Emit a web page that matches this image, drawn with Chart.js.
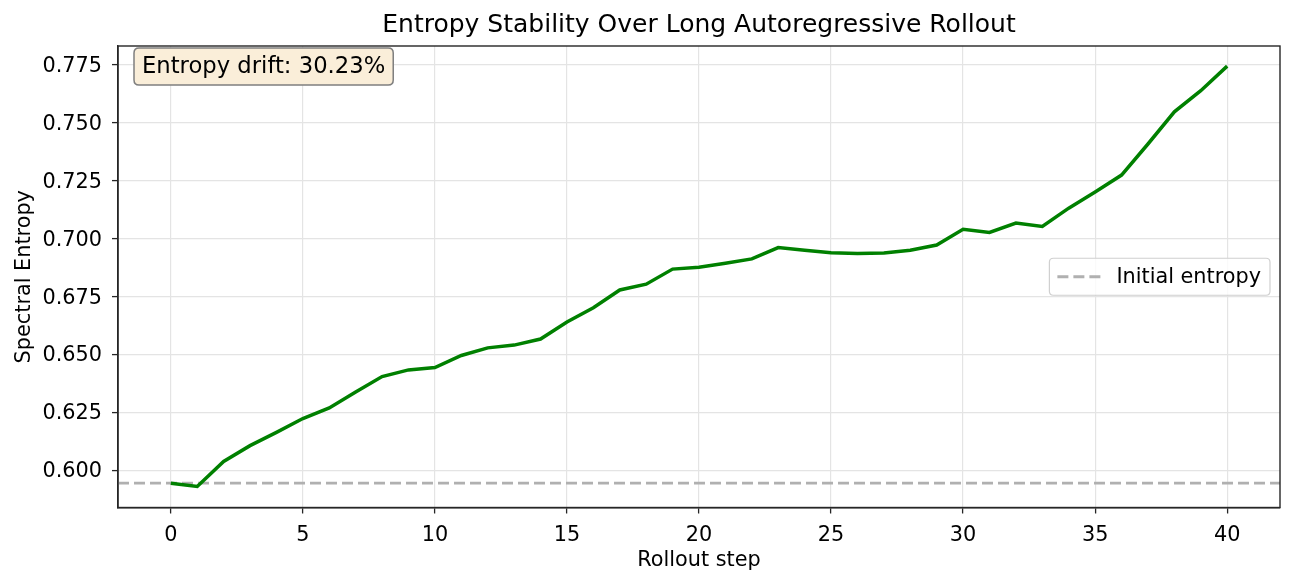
<!DOCTYPE html>
<html>
<head>
<meta charset="utf-8">
<script src="https://cdn.jsdelivr.net/npm/chart.js@4/dist/chart.umd.min.js"></script>
<style>
  html, body { margin: 0; padding: 0; background: #fff; }
  #wrap { width: 1295px; height: 586px; position: relative; }
</style>
</head>
<body>
<div id="wrap"><canvas id="entropyChart"></canvas></div>
<script>
// DATA

const steps = [0, 1, 2, 3, 4, 5, 6, 7, 8, 9, 10, 11, 12, 13, 14, 15, 16, 17, 18, 19, 20,
  21, 22, 23, 24, 25, 26, 27, 28, 29, 30, 31, 32, 33, 34, 35, 36, 37, 38, 39, 40];

const entropy = [0.5945, 0.5931, 0.6039, 0.6107, 0.6164, 0.6224, 0.6270, 0.6339, 0.6405, 0.6434,
  0.6444, 0.6496, 0.6529, 0.6541, 0.6567, 0.6641, 0.6702, 0.6779, 0.6804, 0.6869,
  0.6877, 0.6894, 0.6913, 0.6962, 0.6950, 0.6940, 0.6936, 0.6939, 0.6950, 0.6973,
  0.7041, 0.7027, 0.7068, 0.7053, 0.7132, 0.7202, 0.7275, 0.7409, 0.7548, 0.7639,
  0.7745];

const initialEntropy = 0.5945;
const xRange = [-2, 42];
const yRange = [0.5840, 0.7832];
const xTicks = [0, 5, 10, 15, 20, 25, 30, 35, 40];
const yTicks = [0.600, 0.625, 0.650, 0.675, 0.700, 0.725, 0.750, 0.775];

const titleText = "Entropy Stability Over Long Autoregressive Rollout";
const driftText = "Entropy drift: 30.23%";
const baselineLabel = "Initial entropy";

const FONT = "DejaVu Sans";
const SPINE = "#262626";
const GRID = "#e4e4e4";
const BASE_SIZE = 20.8;

Chart.defaults.font.family = FONT;
Chart.defaults.color = "#000";

// helpers

function roundRect(ctx, x, y, w, h, r) {
  ctx.beginPath();
  ctx.moveTo(x + r, y);
  ctx.lineTo(x + w - r, y);
  ctx.quadraticCurveTo(x + w, y, x + w, y + r);
  ctx.lineTo(x + w, y + h - r);
  ctx.quadraticCurveTo(x + w, y + h, x + w - r, y + h);
  ctx.lineTo(x + r, y + h);
  ctx.quadraticCurveTo(x, y + h, x, y + h - r);
  ctx.lineTo(x, y + r);
  ctx.quadraticCurveTo(x, y, x + r, y);
  ctx.closePath();
}

// frame around the plot (top + right spines too)
const framePlugin = {
  id: "frame",
  afterDatasetsDraw(chart) {
    const { ctx, chartArea: a } = chart;
    ctx.save();
    ctx.strokeStyle = SPINE;
    ctx.lineWidth = 1.4;
    ctx.strokeRect(a.left, a.top, a.right - a.left, a.bottom - a.top);
    ctx.restore();
  }
};

// drift text box + legend inside the plot
const boxesPlugin = {
  id: "boxes",
  afterDraw(chart) {
    const { ctx, chartArea: a } = chart;
    ctx.save();

    // drift box, top left
    ctx.font = "22.7px '" + FONT + "'";
    const tw = ctx.measureText(driftText).width;
    const bx = a.left + 16, by = a.top + 2;
    const bw = tw + 16, bh = 37;
    roundRect(ctx, bx, by, bw, bh, 5);
    ctx.fillStyle = "#faeed9";
    ctx.fill();
    ctx.strokeStyle = "#7f7f7f";
    ctx.lineWidth = 1.5;
    ctx.stroke();
    ctx.fillStyle = "#000";
    ctx.textBaseline = "middle";
    ctx.textAlign = "left";
    ctx.fillText(driftText, bx + 8, by + bh / 2 + 1);

    // legend, right middle
    const ds = chart.data.datasets[1];
    ctx.font = BASE_SIZE + "px '" + FONT + "'";
    const lw = ctx.measureText(ds.label).width;
    const legW = lw + 76, legH = 37;
    const lx = a.right - 10 - legW;
    const ly = (a.top + a.bottom) / 2 - legH / 2;
    roundRect(ctx, lx, ly, legW, legH, 4);
    ctx.fillStyle = "rgba(255,255,255,0.8)";
    ctx.fill();
    ctx.strokeStyle = "#d0d0d0";
    ctx.lineWidth = 1.2;
    ctx.stroke();

    ctx.beginPath();
    ctx.setLineDash(ds.borderDash);
    ctx.strokeStyle = ds.borderColor;
    ctx.lineWidth = ds.borderWidth;
    ctx.moveTo(lx + 8, ly + legH / 2);
    ctx.lineTo(lx + 51, ly + legH / 2);
    ctx.stroke();
    ctx.setLineDash([]);

    ctx.fillStyle = "#000";
    ctx.fillText(ds.label, lx + 67, ly + legH / 2 + 1);
    ctx.restore();
  }
};

// BUILD CHART

const ctx = document.getElementById("entropyChart").getContext("2d");

const entropyChart = new Chart(ctx, {
  type: "line",
  data: {
    datasets: [
      {
        label: "Spectral entropy",
        data: steps.map((s, i) => ({ x: s, y: entropy[i] })),
        borderColor: "#008000",
        borderWidth: 3.5,
        pointRadius: 0,
        tension: 0,
        order: 0
      },
      {
        label: baselineLabel,
        data: xRange.map(x => ({ x, y: initialEntropy })),
        borderColor: "#b0b0b0",
        borderWidth: 2.8,
        borderDash: [11, 5],
        pointRadius: 0,
        order: 1
      }
    ]
  },
  options: {
    responsive: true,
    maintainAspectRatio: false,
    devicePixelRatio: 1,
    animation: false,
    layout: { padding: { left: 0, right: 15, top: 0, bottom: 0 } },
    plugins: {
      legend: { display: false },
      tooltip: { enabled: false },
      title: {
        display: true,
        text: titleText,
        fullSize: false,
        color: "#000",
        font: { size: 25, weight: "normal", lineHeight: 1.2 },
        padding: { top: 10, bottom: 6 }
      }
    },
    scales: {
      x: {
        type: "linear",
        min: xRange[0],
        max: xRange[1],
        afterFit(scale) { scale.height = 78.5; },
        afterBuildTicks(scale) { scale.ticks = xTicks.map(v => ({ value: v })); },
        ticks: {
          font: { size: BASE_SIZE },
          color: "#000",
          padding: 10,
          callback: v => String(v)
        },
        grid: {
          color: GRID,
          lineWidth: 1.2,
          tickColor: SPINE,
          tickLength: 6,
          tickWidth: 1.3
        },
        border: { display: true, color: SPINE, width: 1.4 },
        title: {
          display: true,
          text: "Rollout step",
          font: { size: BASE_SIZE },
          color: "#000",
          padding: { top: 0, bottom: 12.5 }
        }
      },
      y: {
        type: "linear",
        min: yRange[0],
        max: yRange[1],
        afterFit(scale) { scale.width = 118; },
        afterBuildTicks(scale) { scale.ticks = yTicks.map(v => ({ value: v })); },
        ticks: {
          font: { size: BASE_SIZE },
          color: "#000",
          padding: 10,
          labelOffset: 1.5,
          callback: v => v.toFixed(3)
        },
        grid: {
          color: GRID,
          lineWidth: 1.2,
          tickColor: SPINE,
          tickLength: 6,
          tickWidth: 1.3
        },
        border: { display: true, color: SPINE, width: 1.4 },
        title: {
          display: true,
          text: "Spectral Entropy",
          font: { size: BASE_SIZE },
          color: "#000",
          padding: { top: 12.5, bottom: 0 }
        }
      }
    }
  },
  plugins: [framePlugin, boxesPlugin]
});
</script>
</body>
</html>
